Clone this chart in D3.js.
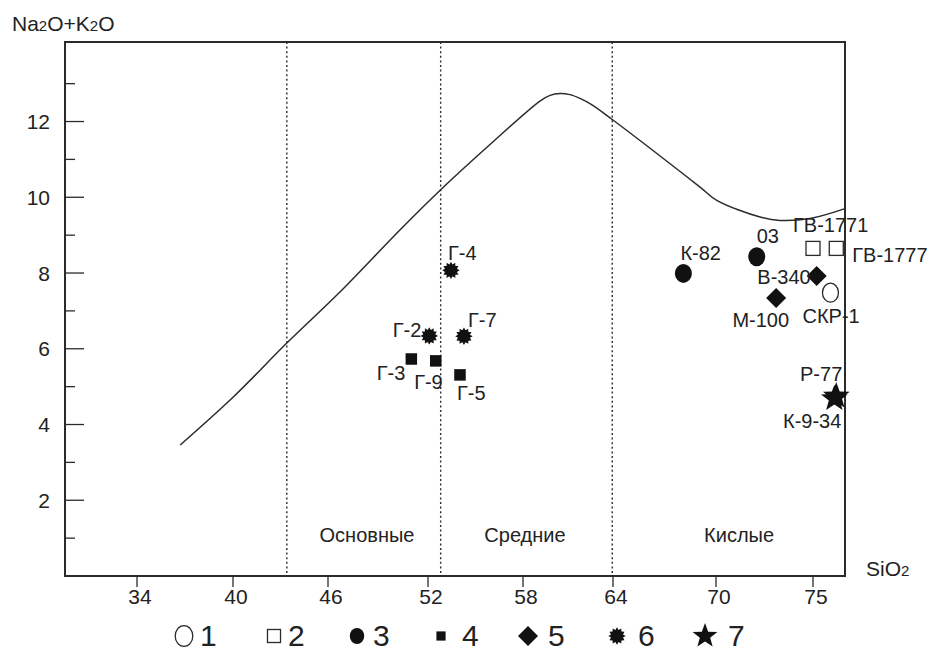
<!DOCTYPE html>
<html>
<head>
<meta charset="utf-8">
<script src="https://cdn.jsdelivr.net/npm/d3@7"></script>
<style>
  body { margin: 0; background: #fff; }
  svg { display: block; }
  text { font-family: Arial, "Liberation Sans", sans-serif; fill: #222; }
</style>
</head>
<body>
<svg id="chart" width="934" height="652"></svg>
<script>
// ---- data ----
const samples = ["СКР-1", "ГВ-1771", "ГВ-1777", "К-82", "03", "Г-3", "Г-9", "Г-5", "В-340", "М-100", "Г-4", "Г-2", "Г-7", "Р-77", "К-9-34"];
const sio2    = [75.9, 75.0, 76.2, 68.1, 72.1, 51.0, 52.49, 54.02, 75.19, 73.1, 53.45, 52.08, 54.27, 76.2, 76.1];
const alkali  = [7.48, 8.65, 8.65, 7.99, 8.43, 5.73, 5.68, 5.31, 7.92, 7.34, 8.07, 6.34, 6.33, 4.75, 4.68];
const groups  = [1, 2, 2, 3, 3, 4, 4, 4, 5, 5, 6, 6, 6, 7, 7];
const legendGroups = [1, 2, 3, 4, 5, 6, 7];

// alkaline / subalkaline dividing curve
const curveSiO2   = [36.7, 40.0, 43.4, 46.7, 50.3, 52.8, 56.04, 59.13, 59.8, 60.47, 61.13, 61.8, 62.6, 63.93, 69.07, 70.04, 72.27, 73.3, 74.85, 76.65];
const curveAlkali = [3.46, 4.72, 6.15, 7.49, 9.13, 10.2, 11.44, 12.54, 12.69, 12.74, 12.71, 12.61, 12.44, 12.06, 10.27, 9.92, 9.48, 9.39, 9.44, 9.70];

// silica class boundaries and names
const boundarySiO2 = [43.4, 52.8, 63.95];
const zoneNames = ["Основные", "Средние", "Кислые"];
const zoneSiO2 = [48.34, 58.13, 71.19];

const xTicks = [34, 40, 46, 52, 58, 64, 70, 75];
const yTicks = [2, 4, 6, 8, 10, 12];
const yMinorTicks = [1, 3, 5, 7, 9, 11, 13];

// ---- layout ----
const svg = d3.select("#chart");
const frame = { left: 65, right: 845, top: 42, bottom: 576 };
const ink = "#2b2b2b";

// the SiO2 axis is drawn with unequal tick spacing
const x = d3.scaleLinear().domain(xTicks).range([137, 233, 328, 428, 523, 613, 716, 813]);
const y = d3.scaleLinear().domain([0, 14.1]).range([frame.bottom, frame.top]);

// dotted class boundaries
svg.append("g").selectAll("line").data(boundarySiO2).join("line")
  .attr("x1", d => x(d)).attr("x2", d => x(d))
  .attr("y1", frame.top).attr("y2", frame.bottom)
  .attr("stroke", ink).attr("stroke-width", 1.4).attr("stroke-dasharray", "2,2.6");

// frame
svg.append("rect")
  .attr("x", frame.left).attr("y", frame.top)
  .attr("width", frame.right - frame.left).attr("height", frame.bottom - frame.top)
  .attr("fill", "none").attr("stroke", ink).attr("stroke-width", 2);

// x axis ticks and labels
const gx = svg.append("g");
gx.selectAll("line").data(xTicks).join("line")
  .attr("x1", d => x(d)).attr("x2", d => x(d))
  .attr("y1", frame.bottom).attr("y2", frame.bottom + 11)
  .attr("stroke", ink).attr("stroke-width", 1.3);
gx.selectAll("text").data(xTicks).join("text")
  .attr("x", d => x(d) + 3).attr("y", 604)
  .attr("text-anchor", "middle").attr("font-size", 21)
  .text(d => d);

// y axis ticks and labels
const gy = svg.append("g");
gy.selectAll("line.major").data(yTicks).join("line").attr("class", "major")
  .attr("x1", frame.left).attr("x2", frame.left + 19)
  .attr("y1", d => y(d)).attr("y2", d => y(d))
  .attr("stroke", ink).attr("stroke-width", 1.3);
gy.selectAll("line.minor").data(yMinorTicks).join("line").attr("class", "minor")
  .attr("x1", frame.left).attr("x2", frame.left + 10)
  .attr("y1", d => y(d)).attr("y2", d => y(d))
  .attr("stroke", ink).attr("stroke-width", 1.3);
gy.selectAll("text").data(yTicks).join("text")
  .attr("x", 50).attr("y", d => y(d) + 7.5)
  .attr("text-anchor", "end").attr("font-size", 21)
  .text(d => d);

// axis titles
const yTitle = svg.append("text").attr("x", 12).attr("y", 31).attr("font-size", 21);
yTitle.append("tspan").text("Na");
yTitle.append("tspan").attr("font-size", 15).text("2");
yTitle.append("tspan").text("O+K");
yTitle.append("tspan").attr("font-size", 15).text("2");
yTitle.append("tspan").text("O");

const xTitle = svg.append("text").attr("x", 866).attr("y", 576).attr("font-size", 21);
xTitle.append("tspan").text("SiO");
xTitle.append("tspan").attr("font-size", 15).text("2");

// zone names
svg.append("g").selectAll("text").data(zoneNames).join("text")
  .attr("x", (d, i) => x(zoneSiO2[i])).attr("y", 542)
  .attr("text-anchor", "middle").attr("font-size", 20)
  .text(d => d);

// dividing curve
const curvePts = curveSiO2.map((s, i) => [s, curveAlkali[i]]);
svg.append("path")
  .attr("d", d3.line().x(d => x(d[0])).y(d => y(d[1])).curve(d3.curveCatmullRom.alpha(0.5))(curvePts))
  .attr("fill", "none").attr("stroke", ink).attr("stroke-width", 1.5);

// ---- marker shapes ----
function starPath(R, r, n) {
  const p = d3.path();
  for (let k = 0; k < 2 * n; k++) {
    const rad = k % 2 === 0 ? R : r;
    const a = -Math.PI / 2 + k * Math.PI / n;
    const px = rad * Math.cos(a), py = rad * Math.sin(a);
    if (k === 0) p.moveTo(px, py); else p.lineTo(px, py);
  }
  p.closePath();
  return p.toString();
}

function drawMarker(sel, g, k) {
  // k scales the legend markers relative to the plotted ones
  if (g === 1) {
    sel.append("ellipse").attr("rx", 8 * k).attr("ry", 9.5 * k)
      .attr("fill", "#fff").attr("stroke", ink).attr("stroke-width", 1.3);
  } else if (g === 2) {
    const s = 14 * k;
    sel.append("rect").attr("x", -s / 2).attr("y", -s / 2).attr("width", s).attr("height", s)
      .attr("fill", "#fff").attr("stroke", ink).attr("stroke-width", 1.3);
  } else if (g === 3) {
    sel.append("ellipse").attr("rx", 8.5 * k).attr("ry", 9.5 * k).attr("fill", "#111");
  } else if (g === 4) {
    const s = 11.5 * k;
    sel.append("rect").attr("x", -s / 2).attr("y", -s / 2).attr("width", s).attr("height", s).attr("fill", "#111");
  } else if (g === 5) {
    const h = 10 * k;
    sel.append("path").attr("d", `M0,${-h}L${h},0L0,${h}L${-h},0Z`).attr("fill", "#111");
  } else if (g === 6) {
    sel.append("path").attr("d", starPath(8.7 * k, 6.2 * k, 12)).attr("fill", "#111");
  } else if (g === 7) {
    sel.append("path").attr("d", starPath(14 * k, 5.8 * k, 5)).attr("fill", "#111");
  }
}

// ---- sample points ----
const rows = samples.map((name, i) => ({ name, si: sio2[i], alk: alkali[i], g: groups[i] }));
const pts = svg.append("g").selectAll("g").data(rows).join("g")
  .attr("transform", d => `translate(${x(d.si)},${y(d.alk)})`);
pts.each(function (d) { drawMarker(d3.select(this), d.g, 1); });

// sample labels: [anchor, dx, dy]
const labelPlacement = {
  "СКР-1":   ["start", -28, 30],
  "ГВ-1771": ["start", -20, -16],
  "ГВ-1777": ["start", 16, 14],
  "К-82":    ["start", -3, -13],
  "03":      ["start", 0, -14],
  "Г-3":     ["end", -6, 21],
  "Г-9":     ["end", 7, 28],
  "Г-5":     ["start", -3, 25],
  "В-340":   ["end", -6, 8],
  "М-100":   ["end", 13, 29],
  "Г-4":     ["start", -3, -10],
  "Г-2":     ["end", -8, 1],
  "Г-7":     ["start", 4, -9],
  "Р-77":    ["end", 6, -15],
  "К-9-34":  ["end", 7, 29]
};
svg.append("g").selectAll("text").data(rows).join("text")
  .attr("x", d => x(d.si) + labelPlacement[d.name][1])
  .attr("y", d => y(d.alk) + labelPlacement[d.name][2])
  .attr("text-anchor", d => labelPlacement[d.name][0])
  .attr("font-size", 20)
  .text(d => d.name);

// ---- legend ----
const legendMarkerX = [184, 274, 357, 441, 528, 617, 705];
const legendTextGap = [16, 14, 16, 21, 20, 21, 23];
const legendScale = [1.1, 0.93, 0.85, 0.8, 1.0, 1.0, 0.93];
const leg = svg.append("g").selectAll("g").data(legendGroups).join("g")
  .attr("transform", (d, i) => `translate(${legendMarkerX[i]},636)`);
leg.each(function (d, i) { drawMarker(d3.select(this), d, legendScale[i]); });
leg.append("text")
  .attr("x", (d, i) => legendTextGap[i]).attr("y", 9.5)
  .attr("font-size", 30)
  .text(d => d);
</script>
</body>
</html>
